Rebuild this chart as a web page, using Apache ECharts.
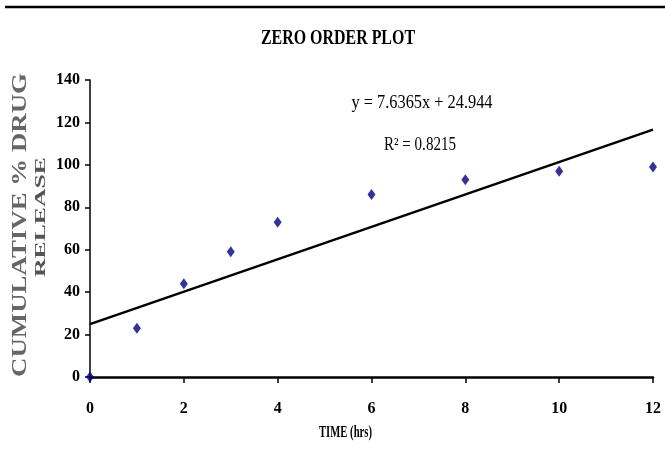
<!DOCTYPE html>
<html><head><meta charset="utf-8">
<script src="https://cdn.jsdelivr.net/npm/echarts@6/dist/echarts.min.js"></script>
<style>html,body{margin:0;padding:0;background:#fff}#c{width:665px;height:468px}</style>
</head><body><div id="c"></div>
<script>
// ---- data ----
const timeHrs = [0, 1, 2, 3, 4, 6, 8, 10, 12];
const cumulativeRelease = [0, 23, 44, 59, 73, 86, 93, 97, 99];
const trendX = [0, 12];
const trendY = [24.944, 116.582];
const titleText = 'ZERO ORDER PLOT';
const yTitle1 = 'CUMULATIVE % DRUG';
const yTitle2 = 'RELEASE';
const xTitle = 'TIME (hrs)';
const eqText = 'y = 7.6365x + 24.944';
const r2Text = 'R\u00B2 = 0.8215';

const SERIF = '"Liberation Serif", "Times New Roman", serif';
const cv = document.createElement('canvas').getContext('2d');
function fitScale(text, font, target) {
  cv.font = font;
  return target / cv.measureText(text).width;
}
function txt(text, size, weight, cx, cy, targetW, rot, fill) {
  const font = weight + ' ' + size + 'px ' + SERIF;
  const s = fitScale(text, font, targetW);
  return {
    type: 'text', x: cx, y: cy, rotation: rot || 0, scaleX: s, scaleY: 1, silent: true,
    style: { text: text, font: font, fill: fill || '#000', align: 'center', verticalAlign: 'middle' }
  };
}

const chart = echarts.init(document.getElementById('c'), null, { renderer: 'canvas' });
const labelFont = { fontFamily: SERIF, fontSize: 16, fontWeight: 'bold', color: '#000' };
chart.setOption({
  animation: false,
  backgroundColor: '#fff',
  grid: { left: 90, right: 12, top: 80, bottom: 91, containLabel: false },
  xAxis: {
    type: 'value', min: 0, max: 12, interval: 2,
    axisLine: { lineStyle: { color: '#000', width: 2.5 } },
    axisTick: { show: true, length: 6, lineStyle: { color: '#000', width: 1.5 } },
    axisLabel: Object.assign({ margin: 24 }, labelFont),
    splitLine: { show: false }
  },
  yAxis: {
    type: 'value', min: 0, max: 140, interval: 20,
    axisLine: { show: true, lineStyle: { color: '#000', width: 1.5 } },
    axisTick: { show: true, length: 5, lineStyle: { color: '#000', width: 1.5 } },
    axisLabel: Object.assign({ margin: 10 }, labelFont),
    splitLine: { show: false }
  },
  series: [
    {
      type: 'line', data: trendX.map((x, i) => [x, trendY[i]]),
      symbol: 'none', lineStyle: { color: '#000', width: 2.5 }, z: 2, silent: true
    },
    {
      type: 'scatter', data: timeHrs.map((x, i) => [x, cumulativeRelease[i]]),
      symbol: 'diamond', symbolSize: [8, 11], itemStyle: { color: '#000080' }, z: 3
    }
  ],
  graphic: [
    { type: 'line', shape: { x1: 5, y1: 7, x2: 665, y2: 7 }, style: { stroke: '#000', lineWidth: 2.5 }, silent: true },
    txt(titleText, 21, 'bold', 338, 39, 154),
    txt(yTitle1, 21, 'bold', 20.5, 225, 304, Math.PI / 2, '#666'),
    txt(yTitle2, 15, 'bold', 41.5, 217, 120, Math.PI / 2, '#555'),
    txt(xTitle, 17, 'bold', 345.5, 433, 53),
    txt(eqText, 18, 'normal', 422, 103, 141),
    txt(r2Text, 18, 'normal', 420, 145, 72)
  ]
});
</script>
</body></html>
